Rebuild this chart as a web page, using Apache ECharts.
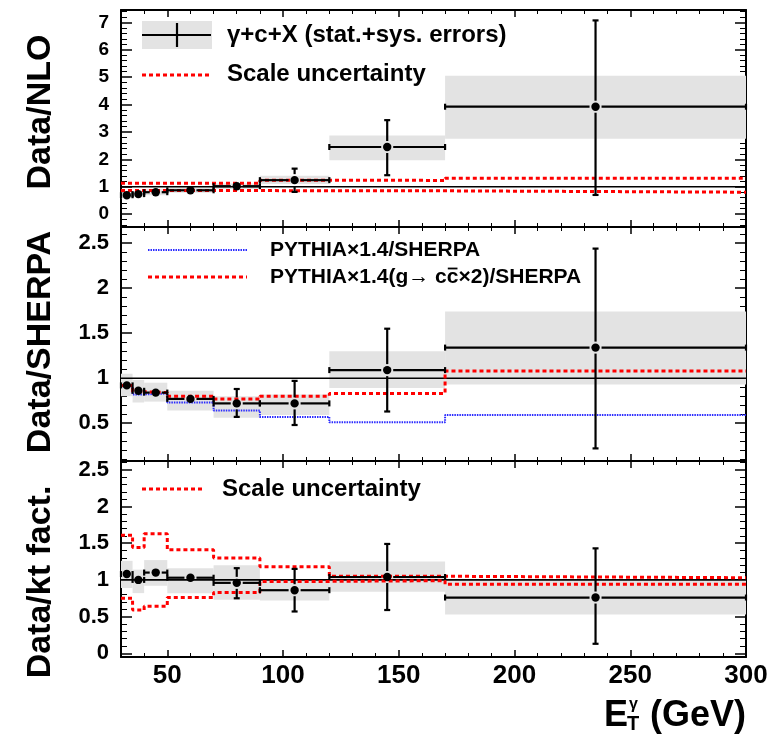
<!DOCTYPE html>
<html>
<head>
<meta charset="utf-8">
<script src="https://cdn.jsdelivr.net/npm/echarts@6/dist/echarts.min.js"></script>
<style>
html, body { margin: 0; background: #fff; }
#main { width: 777px; height: 734px; }
</style>
</head>
<body>
<div id="main"></div>
<script>
// bins in E_T (GeV)
var binLo = [30, 35, 40, 50, 70, 90, 120, 170];
var binHi = [35, 40, 50, 70, 90, 120, 170, 300];
var binMid = [32.5, 37.5, 45, 60, 80, 105, 145, 235];

// tick labels
var xTicks = [50, 100, 150, 200, 250, 300];
var nloTicks = [0, 1, 2, 3, 4, 5, 6, 7];
var sherpaTicks = [0.5, 1, 1.5, 2, 2.5];
var ktTicks = [0, 0.5, 1, 1.5, 2, 2.5];

// Data/NLO
var nloVal    = [0.69, 0.73, 0.80, 0.87, 1.02, 1.24, 2.45, 3.92];
var nloStatLo = [0.65, 0.69, 0.76, 0.82, 0.90, 0.81, 1.42, 0.70];
var nloStatHi = [0.73, 0.77, 0.84, 0.92, 1.14, 1.66, 3.43, 7.07];
var nloSysLo  = [0.58, 0.62, 0.69, 0.78, 0.92, 1.10, 1.97, 2.75];
var nloSysHi  = [0.80, 0.84, 0.91, 0.96, 1.12, 1.40, 2.87, 5.05];
var nloScaleUp = [1.13, 1.13, 1.13, 1.13, 1.13, 1.24, 1.23, 1.31];
var nloScaleDn = [0.86, 0.86, 0.86, 0.86, 0.86, 0.85, 0.85, 0.80];

// Data/SHERPA
var shVal    = [0.92, 0.86, 0.84, 0.77, 0.72, 0.72, 1.09, 1.34];
var shStatLo = [0.89, 0.83, 0.81, 0.74, 0.57, 0.48, 0.63, 0.22];
var shStatHi = [0.95, 0.89, 0.87, 0.80, 0.88, 0.97, 1.55, 2.44];
var shSysLo  = [0.80, 0.73, 0.74, 0.64, 0.56, 0.59, 0.89, 0.93];
var shSysHi  = [1.05, 0.98, 0.95, 0.86, 0.80, 0.82, 1.30, 1.74];
var pythia   = [0.91, 0.82, 0.83, 0.73, 0.64, 0.57, 0.51, 0.59];
var pythiaG  = [0.92, 0.85, 0.84, 0.80, 0.77, 0.80, 0.83, 1.08];

// Data/kt fact.
var ktVal    = [1.08, 1.00, 1.10, 1.03, 0.96, 0.86, 1.04, 0.76];
var ktStatLo = [1.04, 0.96, 1.06, 0.99, 0.75, 0.57, 0.59, 0.13];
var ktStatHi = [1.12, 1.04, 1.14, 1.07, 1.16, 1.15, 1.49, 1.43];
var ktSysLo  = [0.89, 0.82, 0.92, 0.82, 0.73, 0.72, 0.84, 0.53];
var ktSysHi  = [1.26, 1.14, 1.27, 1.16, 1.20, 1.00, 1.25, 1.00];
var ktScaleUp = [1.61, 1.44, 1.63, 1.41, 1.30, 1.18, 1.05, 1.03];
var ktScaleDn = [0.75, 0.59, 0.64, 0.76, 0.83, 0.98, 0.99, 0.94];

var FONT = "'Liberation Sans', Arial, Helvetica, sans-serif";

var chart = echarts.init(document.getElementById('main'));

function minors(a, b, step, majors) {
    var out = [];
    for (var v = a; v <= b + 1e-9; v += step) {
        var r = Math.round(v * 100) / 100;
        if (majors.indexOf(r) < 0) out.push(r);
    }
    return out;
}

var grids = [
    { left: 121, right: 31, top: 10, height: 217 },
    { left: 121, right: 31, top: 227, height: 234 },
    { left: 121, right: 31, top: 461, height: 196 }
];
var yRange = [[-0.47, 7.45], [0.08, 2.68], [-0.05, 2.62]];
var yMajor = [nloTicks, sherpaTicks, ktTicks];
var yMinor = [
    minors(-0.4, 7.4, 0.2, nloTicks),
    minors(0.1, 2.6, 0.1, sherpaTicks),
    minors(0, 2.6, 0.1, ktTicks)
];
var yFont = [19, 22, 22];
var xMinor = minors(40, 290, 10, xTicks);

var xAxes = [], yAxes = [];
grids.forEach(function (g, i) {
    g.show = false;
    g.outerBoundsMode = 'none';
    ['bottom', 'top'].forEach(function (pos) {
        [true, false].forEach(function (major) {
            xAxes.push({
                gridIndex: i, type: 'value', min: 30, max: 300, position: pos,
                splitLine: { show: false },
                axisLine: { show: major, onZero: false, lineStyle: { color: '#000', width: 2 } },
                axisTick: { inside: true, length: major ? 7 : 4, customValues: major ? xTicks : xMinor,
                    lineStyle: { color: '#000', width: major ? 1.5 : 1 } },
                axisLabel: { show: major && pos === 'bottom' && i === 2, customValues: xTicks,
                    margin: 6, color: '#000', fontSize: 26, fontWeight: 'bold', fontFamily: FONT }
            });
        });
    });
    ['left', 'right'].forEach(function (pos) {
        [true, false].forEach(function (major) {
            yAxes.push({
                gridIndex: i, type: 'value', min: yRange[i][0], max: yRange[i][1], position: pos,
                splitLine: { show: false },
                axisLine: { show: major, onZero: false, lineStyle: { color: '#000', width: 2 } },
                axisTick: { inside: true, length: major ? 11 : 6, customValues: major ? yMajor[i] : yMinor[i],
                    lineStyle: { color: '#000', width: major ? 1.5 : 1 } },
                axisLabel: { show: major && pos === 'left', customValues: yMajor[i],
                    margin: 12, color: '#000', fontSize: yFont[i], fontWeight: 'bold', fontFamily: FONT }
            });
        });
    });
});

function renderBox(params, api) {
    var p0 = api.coord([api.value(0), api.value(3)]);
    var p1 = api.coord([api.value(1), api.value(2)]);
    return {
        type: 'rect',
        shape: { x: p0[0], y: p0[1], width: p1[0] - p0[0], height: p1[1] - p0[1] },
        style: { fill: '#e3e3e3' }
    };
}

function renderPoint(params, api) {
    var c = api.coord([api.value(0), api.value(3)]);
    var l = api.coord([api.value(1), api.value(3)]);
    var r = api.coord([api.value(2), api.value(3)]);
    var t = api.coord([api.value(0), api.value(5)]);
    var b = api.coord([api.value(0), api.value(4)]);
    var gap = 6, cap = 3;
    var st = { stroke: '#000', lineWidth: 2.2 };
    var kids = [];
    function seg(x1, y1, x2, y2) {
        kids.push({ type: 'line', shape: { x1: x1, y1: y1, x2: x2, y2: y2 }, style: st });
    }
    if (c[0] - l[0] > gap) seg(l[0], c[1], c[0] - gap, c[1]);
    if (r[0] - c[0] > gap) seg(c[0] + gap, c[1], r[0], c[1]);
    if (c[1] - t[1] > gap) { seg(c[0], t[1], c[0], c[1] - gap); seg(c[0] - cap, t[1], c[0] + cap, t[1]); }
    if (b[1] - c[1] > gap) { seg(c[0], c[1] + gap, c[0], b[1]); seg(c[0] - cap, b[1], c[0] + cap, b[1]); }
    seg(l[0], c[1] - cap, l[0], c[1] + cap);
    seg(r[0], c[1] - cap, r[0], c[1] + cap);
    kids.push({ type: 'circle', shape: { cx: c[0], cy: c[1], r: 4.2 }, style: { fill: '#000' } });
    return { type: 'group', children: kids };
}

function boxData(lo, hi) {
    return binLo.map(function (x, i) { return [x, binHi[i], lo[i], hi[i]]; });
}
function pointData(v, lo, hi) {
    return binMid.map(function (x, i) { return [x, binLo[i], binHi[i], v[i], lo[i], hi[i]]; });
}
function histData(v) {
    var d = binLo.map(function (x, i) { return [x, v[i]]; });
    d.push([binHi[binHi.length - 1], v[v.length - 1]]);
    return d;
}

var series = [];
function addPanel(i, v, sLo, sHi, yLo, yHi, lines) {
    var xi = i * 4, yi = i * 4;
    series.push({
        type: 'custom', xAxisIndex: xi, yAxisIndex: yi, z: 1,
        renderItem: renderBox, data: boxData(yLo, yHi), silent: true
    });
    series.push({
        type: 'line', xAxisIndex: xi, yAxisIndex: yi, z: 2, symbol: 'none',
        lineStyle: { color: '#000', width: 1.6 }, data: [[30, 1], [300, 1]]
    });
    lines.forEach(function (ln) {
        series.push({
            type: 'line', xAxisIndex: xi, yAxisIndex: yi, z: 3, symbol: 'none', step: 'end',
            lineStyle: { color: ln.color, width: ln.width, type: ln.dash }, data: histData(ln.data)
        });
    });
    series.push({
        type: 'custom', xAxisIndex: xi, yAxisIndex: yi, z: 4,
        renderItem: renderPoint, data: pointData(v, sLo, sHi)
    });
}

var redDash = [4, 3];
var blueDot = [1.5, 1];
addPanel(0, nloVal, nloStatLo, nloStatHi, nloSysLo, nloSysHi, [
    { data: nloScaleUp, color: '#ff0000', width: 3, dash: redDash },
    { data: nloScaleDn, color: '#ff0000', width: 3, dash: redDash }
]);
addPanel(1, shVal, shStatLo, shStatHi, shSysLo, shSysHi, [
    { data: pythia, color: '#2b2bff', width: 2, dash: blueDot },
    { data: pythiaG, color: '#ff0000', width: 3, dash: redDash }
]);
addPanel(2, ktVal, ktStatLo, ktStatHi, ktSysLo, ktSysHi, [
    { data: ktScaleUp, color: '#ff0000', width: 3, dash: redDash },
    { data: ktScaleDn, color: '#ff0000', width: 3, dash: redDash }
]);

function txt(x, y, s, size, extra) {
    var o = { type: 'text', x: x, y: y, z: 100,
        style: { text: s, fill: '#000', font: 'bold ' + size + 'px ' + FONT, align: 'left', verticalAlign: 'middle' } };
    if (extra) for (var k in extra) o[k] = extra[k];
    return o;
}
function seg(x1, y1, x2, y2, color, width, dash) {
    return { type: 'line', z: 100, shape: { x1: x1, y1: y1, x2: x2, y2: y2 },
        style: { stroke: color, lineWidth: width, lineDash: dash || null } };
}

// width of the legend text up to the anti-charm "c", to place its bar
var ctx = document.createElement('canvas').getContext('2d');
ctx.font = 'bold 21px ' + FONT;
var pyHead = 'PYTHIA×1.4(g→ c';
var wHead = ctx.measureText(pyHead + 'c').width;
var wC = ctx.measureText('c').width;
var barX = 270 + wHead - wC;

var graphic = [
    // panel 1 legend
    { type: 'rect', z: 99, shape: { x: 142, y: 21, width: 70, height: 28 }, style: { fill: '#e3e3e3' } },
    seg(142, 35, 211, 35, '#000', 2.2),
    seg(177, 23, 177, 47, '#000', 2.2),
    txt(227, 35, 'γ+c+X (stat.+sys. errors)', 24),
    seg(142, 75, 211, 75, '#ff0000', 3, redDash),
    txt(227, 74, 'Scale uncertainty', 24),
    // panel 2 legend
    seg(148, 250, 247, 250, '#2b2bff', 2, blueDot),
    txt(270, 250, 'PYTHIA×1.4/SHERPA', 21),
    seg(148, 277, 247, 277, '#ff0000', 3, redDash),
    txt(270, 277, pyHead + 'c×2)/SHERPA', 21),
    seg(barX + 1, 268.5, barX + wC - 1, 268.5, '#000', 1.8),
    // panel 3 legend
    seg(142, 489, 205, 489, '#ff0000', 3, redDash),
    txt(222, 489, 'Scale uncertainty', 24),
    // y titles
    txt(41, 112, 'Data/NLO', 34, { rotation: Math.PI / 2 }),
    txt(41, 342, 'Data/SHERPA', 34, { rotation: Math.PI / 2 }),
    txt(41, 582, 'Data/kt fact.', 34, { rotation: Math.PI / 2 }),
    // x title
    txt(604, 716, 'E', 36),
    txt(627, 724, 'T', 20),
    txt(629, 705, 'γ', 16),
    txt(650, 716, '(GeV)', 36)
];
graphic.forEach(function (g) {
    if (g.type === 'text' && g.rotation) g.style.align = 'center';
});

chart.setOption({
    backgroundColor: '#fff',
    animation: false,
    grid: grids,
    xAxis: xAxes,
    yAxis: yAxes,
    series: series,
    graphic: graphic
});

window.addEventListener('resize', function () {
    chart.resize();
});
</script>
</body>
</html>
